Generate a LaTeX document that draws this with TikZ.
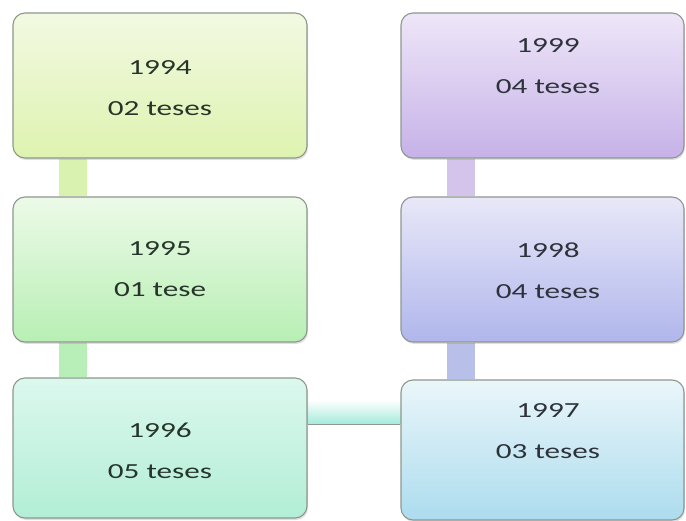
\documentclass[tikz,border=0pt]{standalone}
\usepackage{fontspec}
\setmainfont{Carlito}
\usetikzlibrary{shadows,backgrounds}

\definecolor{txtL}{HTML}{26342A}
\definecolor{txtR}{HTML}{2E323A}
\definecolor{edgegray}{HTML}{8E978E}

\tikzset{
  yearbox/.style={draw=edgegray, line width=1.1pt, rounded corners=12pt,
    drop shadow={shadow xshift=1pt, shadow yshift=-2pt, opacity=0.25},
    inner sep=0pt},
  leftbox/.style={yearbox, minimum width=294pt, minimum height=145pt},
  rightbox/.style={yearbox, minimum width=283pt, minimum height=145pt},
  yeartext/.style={align=center, font=\fontsize{21.5}{41}\selectfont,
    xscale=1.45, transform shape},
  link/.style={line width=28pt},
}

\begin{document}
\begin{tikzpicture}[x=1pt, y=-1pt]
\useasboundingbox (0,0) rectangle (686,521);

% year boxes, left column
\node[leftbox, top color={rgb,255:red,242;green,249;blue,226}, bottom color={rgb,255:red,222;green,243;blue,176}] (b1994) at (160,85.5) {};
\node[leftbox, top color={rgb,255:red,236;green,250;blue,232}, bottom color={rgb,255:red,184;green,239;blue,180}] (b1995) at (160,269.5) {};
\node[leftbox, minimum height=140pt, top color={rgb,255:red,220;green,248;blue,238}, bottom color={rgb,255:red,178;green,238;blue,214}] (b1996) at (160,448) {};

% year boxes, right column
\node[rightbox, top color={rgb,255:red,238;green,230;blue,248}, bottom color={rgb,255:red,198;green,178;blue,232}] (b1999) at (542.5,85.5) {};
\node[rightbox, top color={rgb,255:red,232;green,232;blue,248}, bottom color={rgb,255:red,176;green,182;blue,236}] (b1998) at (542.5,269.5) {};
\node[rightbox, minimum height=140pt, top color={rgb,255:red,234;green,246;blue,250}, bottom color={rgb,255:red,172;green,220;blue,238}] (b1997) at (542.5,450) {};

% connectors behind the boxes
\begin{scope}[on background layer]
  \draw[link, color={rgb,255:red,218;green,242;blue,176}] ([xshift=61pt]b1994.south west) -- ([xshift=61pt]b1995.north west);
  \draw[link, color={rgb,255:red,184;green,238;blue,184}] ([xshift=61pt]b1995.south west) -- ([xshift=61pt]b1996.north west);
  \draw[link, color={rgb,255:red,212;green,196;blue,236}] ([xshift=61pt]b1999.south west) -- ([xshift=61pt]b1998.north west);
  \draw[link, color={rgb,255:red,184;green,192;blue,234}] ([xshift=61pt]b1998.south west) -- ([xshift=61pt]b1997.north west);
  \shade[top color=white, bottom color={rgb,255:red,160;green,234;blue,218}]
    ([yshift=48pt]b1996.east) rectangle ([yshift=23pt]b1996.east -| b1997.west);
  \draw[edgegray, line width=1pt] ([yshift=23pt]b1996.east) -- ([yshift=23pt]b1996.east -| b1997.west);
\end{scope}

% labels
\node[yeartext, text=txtL] (t1994) at (160,88.5) {1994\\02 teses};
\node[yeartext, text=txtL] (t1995) at (160,269.5) {1995\\01 tese};
\node[yeartext, text=txtL] (t1996) at (160,450.5) {1996\\05 teses};
\node[yeartext, text=txtR] (t1999) at (548,66.5) {1999\\04 teses};
\node[yeartext, text=txtR] (t1998) at (548,270.5) {1998\\04 teses};
\node[yeartext, text=txtR] (t1997) at (548,431.5) {1997\\03 teses};
\end{tikzpicture}
\end{document}
